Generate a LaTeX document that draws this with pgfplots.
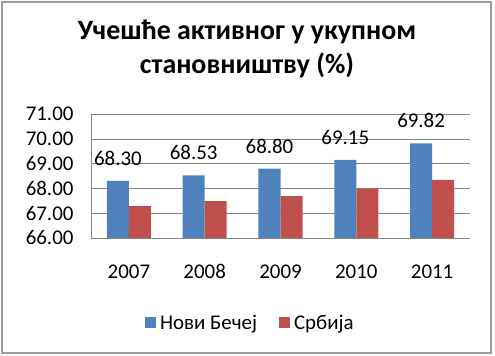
\documentclass[border=0pt]{standalone}
\usepackage{fontspec}
\setmainfont{Carlito}
\usepackage{pgfplots}
\pgfplotsset{compat=1.18}
\definecolor{xblue}{HTML}{4F81BD}
\definecolor{xred}{HTML}{C0504D}
\definecolor{gridgray}{HTML}{868686}
\begin{document}
\begin{tikzpicture}
\path[use as bounding box] (0,0) rectangle (495bp,356bp);
\draw[gridgray!80, line width=2bp] (2bp,3bp) rectangle (491bp,354bp);
\node[anchor=base, font=\fontsize{28}{32}\selectfont\bfseries] at (247bp,316bp) {Учешће активног у укупном};
\node[anchor=base, font=\fontsize{28}{32}\selectfont\bfseries] at (247bp,282bp) {становништву (\%)};
\begin{axis}[
  at={(91bp,118bp)}, anchor=south west,
  scale only axis, width=379bp, height=124bp,
  xmin=-0.5, xmax=4.5, ymin=66, ymax=71,
  xtick={0,1,2,3,4}, xticklabels={2007,2008,2009,2010,2011},
  ytick={66,67,68,69,70,71},
  yticklabel style={/pgf/number format/.cd, fixed, fixed zerofill, precision=2},
  /pgf/number format/assume math mode=true,
  ticklabel style={font=\fontsize{21}{24}\selectfont},
  xticklabel style={anchor=base, text height=14bp},
  major tick length=0pt,
  axis x line*=bottom, axis y line*=left,
  axis line style={gridgray, -},
  ymajorgrids, grid style={gridgray, line width=0.6pt},
  xtick style={draw=none}, ytick style={draw=none},
  ybar=0pt, bar width=22bp,
  yticklabel shift=14bp,
  xticklabel shift=40bp,
  legend style={at={(0.423,-0.685)}, anchor=center, draw=none, legend columns=2,
    font=\fontsize{21}{24}\selectfont, /tikz/every even column/.append style={column sep=18bp},
    nodes={inner xsep=4bp}},
  legend image code/.code={\fill[#1] (0bp,-5.5bp) rectangle (11bp,5.5bp);},
]
\addplot[fill=xblue, draw=none,
  nodes near coords, nodes near coords style={anchor=south, inner sep=0pt, yshift=15bp, font=\fontsize{21}{24}\selectfont, /pgf/number format/.cd, fixed, fixed zerofill, precision=2, assume math mode=true}]
  coordinates {(0,68.30) (1,68.53) (2,68.80) (3,69.15) (4,69.82)};
\addplot[fill=xred, draw=none] coordinates {(0,67.29) (1,67.49) (2,67.69) (3,67.99) (4,68.34)};
\legend{Нови Бечеј, Србија}
\end{axis}
\end{tikzpicture}
\end{document}
